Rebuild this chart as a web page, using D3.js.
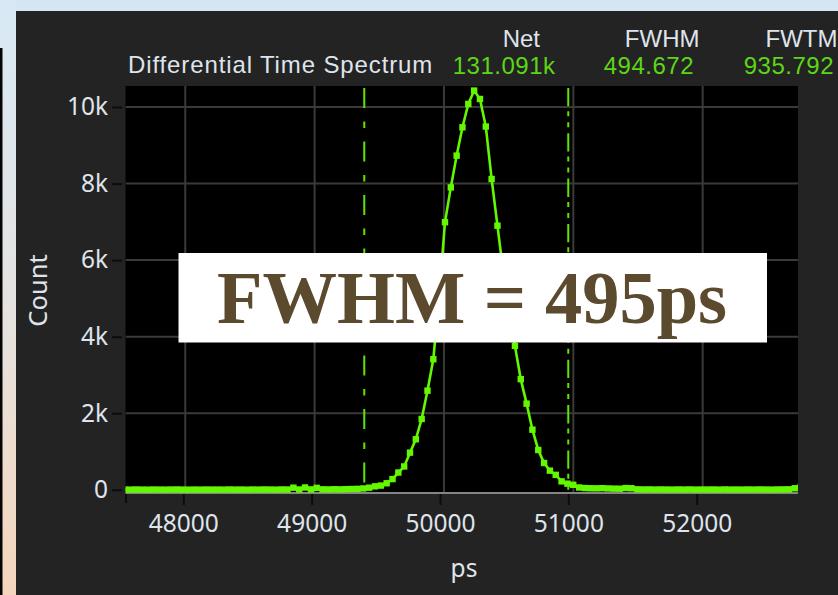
<!DOCTYPE html>
<html>
<head>
<meta charset="utf-8">
<script src="https://cdn.jsdelivr.net/npm/d3@7"></script>
<style>
  html, body { margin: 0; padding: 0; background: #d4e6f3; }
  svg { display: block; }
  text { font-family: "Noto Sans", "Open Sans", sans-serif; }
  text.header { font-family: "Liberation Sans", Arial, sans-serif; font-size: 24px; }
</style>
</head>
<body>
<svg id="chart" width="838" height="595"></svg>
<script>
// ---- Histogram of the differential time spectrum (counts per bin) ----
const firstBin = 47529;     // centre of the first bin, ps
const binWidth = 45.07;     // ps per bin

const leftTail = [6, 4, 8, 5, 3, 7, 5, 4, 6, 8, 5, 3, 6, 4, 7, 5, 6, 4, 8, 5, 6, 3,
  7, 5, 8, 6, 4, 9, 7, 55, 8, 60, 10, 50, 12, 9, 14, 11, 16, 20, 24, 35, 55];
const peakCounts = [90, 110, 170, 280, 450, 610, 970, 1320, 1850, 2590, 3410, 5050,
  6990, 7900, 8730, 9470, 10080, 10430, 10210, 9490, 8120, 6900, 5680, 4700, 3760,
  2890, 2250, 1570, 1040, 700, 500, 390, 220, 160, 130];
const rightTail = [60, 45, 40, 38, 42, 35, 30, 28, 45, 40, 12, 8, 10, 6, 9, 7, 5, 8,
  6, 9, 5, 7, 6, 8, 5, 9, 6, 7, 5, 8, 6, 9, 7, 5, 8, 10, 12, 40, 70];

// Region-of-interest markers, ps
const roiLeft = 49384;
const roiRight = 50961;

// Axis ticks
const xTicks = [48000, 49000, 50000, 51000, 52000];
const yTicks = [0, 2000, 4000, 6000, 8000, 10000];
const xDomain = [47538, 52737];
const yDomain = [-84, 10549];

// Summary statistics
const title = "Differential Time Spectrum";
const statLabels = ["Net", "FWHM", "FWTM"];
const statValues = ["131.091k", "494.672", "935.792"];
const fwhmPs = 494.672;

const counts = leftTail.concat(peakCounts, rightTail);
const bins = counts.map((c, i) => ({ t: firstBin + i * binWidth, c }));

const svg = d3.select("#chart");

// ---- window frame ----
const defs = svg.append("defs");
const grad = defs.append("linearGradient").attr("id", "sideGrad")
  .attr("x1", 0).attr("y1", 0).attr("x2", 0).attr("y2", 1);
grad.append("stop").attr("offset", "0%").attr("stop-color", "#d8e9f5");
grad.append("stop").attr("offset", "55%").attr("stop-color", "#e6e2de");
grad.append("stop").attr("offset", "100%").attr("stop-color", "#f4d5bb");

svg.append("rect").attr("x", 0).attr("y", 0).attr("width", 838).attr("height", 595).attr("fill", "#d4e6f3");
svg.append("rect").attr("x", 0).attr("y", 0).attr("width", 16).attr("height", 595).attr("fill", "url(#sideGrad)");
svg.append("rect").attr("x", 0).attr("y", 48).attr("width", 2.5).attr("height", 547).attr("fill", "#050505");
svg.append("rect").attr("x", 16).attr("y", 11).attr("width", 822).attr("height", 584).attr("fill", "#232323");

// ---- plot area ----
const plot = { left: 125.5, right: 798, top: 86, bottom: 493 };

const x = d3.scaleLinear().domain(xDomain).range([plot.left, plot.right]);
const xAxisScale = x.copy().range([124, 791.3]);
const y = d3.scaleLinear().domain(yDomain).range([plot.bottom, plot.top]);

svg.append("rect").attr("x", plot.left).attr("y", plot.top)
  .attr("width", plot.right - plot.left).attr("height", plot.bottom - plot.top)
  .attr("fill", "#000");

defs.append("clipPath").attr("id", "plotClip").append("rect")
  .attr("x", plot.left).attr("y", plot.top)
  .attr("width", plot.right - plot.left).attr("height", plot.bottom - plot.top);

// grid
const grid = svg.append("g").attr("clip-path", "url(#plotClip)");
grid.selectAll("line.gx").data(xTicks).join("line").attr("class", "gx")
  .attr("x1", d => x(d)).attr("x2", d => x(d))
  .attr("y1", plot.top).attr("y2", plot.bottom)
  .attr("stroke", "#3a3a3a").attr("stroke-width", 2);
grid.selectAll("line.gy").data(yTicks.filter(d => d > 0)).join("line").attr("class", "gy")
  .attr("x1", plot.left).attr("x2", plot.right)
  .attr("y1", d => y(d)).attr("y2", d => y(d))
  .attr("stroke", "#3a3a3a").attr("stroke-width", 2);

// x axis baseline
svg.append("line").attr("x1", plot.left).attr("x2", plot.right)
  .attr("y1", plot.bottom).attr("y2", plot.bottom)
  .attr("stroke", "#858585").attr("stroke-width", 2);

// spectrum: polyline with a square marker on every bin
const green = "#64f800";
const data = svg.append("g").attr("clip-path", "url(#plotClip)");
data.append("path").datum(bins)
  .attr("d", d3.line().x(d => x(d.t)).y(d => y(d.c)))
  .attr("fill", "none").attr("stroke", green).attr("stroke-width", 2.6);
data.selectAll("rect.pt").data(bins).join("rect").attr("class", "pt")
  .attr("x", d => x(d.t) - 3.2).attr("y", d => y(d.c) - 3.2)
  .attr("width", 6.4).attr("height", 6.4)
  .attr("fill", green);

// ROI markers
data.append("line").attr("x1", x(roiLeft)).attr("x2", x(roiLeft))
  .attr("y1", plot.top + 2).attr("y2", plot.bottom)
  .attr("stroke", "#5fe600").attr("stroke-width", 2)
  .attr("stroke-dasharray", "20,13.4,6.7,13.4");
data.append("line").attr("x1", x(roiRight)).attr("x2", x(roiRight))
  .attr("y1", plot.top + 2).attr("y2", plot.bottom)
  .attr("stroke", "#5fe600").attr("stroke-width", 2)
  .attr("stroke-dasharray", "18.3,5,5,6,5,6");

// ---- axes ----
const tickColor = "#0c0c0c";
const labelColor = "#dfe4ec";

const xAxis = svg.append("g").attr("transform", `translate(0,${plot.bottom + 1})`)
  .call(d3.axisBottom(xAxisScale).tickValues(xTicks).tickFormat(d3.format("d"))
    .tickSize(11).tickPadding(6));
xAxis.select(".domain").remove();
xAxis.selectAll(".tick line").attr("stroke", tickColor).attr("stroke-width", 2);
xAxis.selectAll(".tick text").attr("fill", labelColor)
  .style("font-size", "24.5px").attr("dy", "0.85em");
svg.append("line").attr("x1", 126).attr("x2", 126).attr("y1", plot.bottom + 1).attr("y2", plot.bottom + 10)
  .attr("stroke", tickColor).attr("stroke-width", 2);

const yAxis = svg.append("g").attr("transform", "translate(122,0)")
  .call(d3.axisLeft(y).tickValues(yTicks)
    .tickFormat(d => d === 0 ? "0" : (d / 1000) + "k")
    .tickSize(10).tickPadding(4));
yAxis.select(".domain").remove();
yAxis.selectAll(".tick line").attr("stroke", tickColor).attr("stroke-width", 2);
yAxis.selectAll(".tick text").attr("fill", labelColor).style("font-size", "24.5px");

svg.append("text").text("Count")
  .attr("transform", "translate(47,290.5) rotate(-90)")
  .attr("text-anchor", "middle").attr("fill", labelColor).style("font-size", "25.5px");
svg.append("text").text("ps")
  .attr("x", 464).attr("y", 577)
  .attr("text-anchor", "middle").attr("fill", labelColor).style("font-size", "24.5px");

// ---- header ----
svg.append("text").attr("class", "header").text(title).attr("x", 128).attr("y", 73)
  .attr("fill", labelColor).style("letter-spacing", "0.88px");

const labelRight = [540, 699.5, 837.5];
const valueRight = [555.5, 694, 834];
svg.selectAll("text.statLabel").data(statLabels).join("text").attr("class", "header statLabel")
  .text(d => d).attr("x", (d, i) => labelRight[i]).attr("y", 46.5)
  .attr("text-anchor", "end").attr("fill", labelColor);
svg.selectAll("text.statValue").data(statValues).join("text").attr("class", "header statValue")
  .text(d => d).attr("x", (d, i) => valueRight[i]).attr("y", 74)
  .attr("text-anchor", "end").attr("fill", "#5cd616").style("letter-spacing", "0.5px");

// ---- FWHM callout ----
svg.append("rect").attr("x", 178.5).attr("y", 253).attr("width", 588.5).attr("height", 89.5)
  .attr("fill", "#ffffff");
svg.append("text").text(`FWHM = ${Math.round(fwhmPs)}ps`)
  .attr("x", 472).attr("y", 323)
  .attr("text-anchor", "middle")
  .attr("fill", "#5b4a2e")
  .style("font-family", "'Liberation Serif', 'Times New Roman', serif")
  .style("font-weight", "bold").style("font-size", "74.5px");
</script>
</body>
</html>
